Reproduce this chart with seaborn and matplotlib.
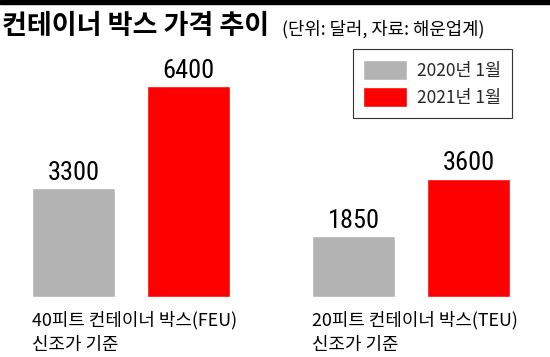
import pandas as pd
import matplotlib.pyplot as plt
import seaborn as sns
from matplotlib.patches import Rectangle
from matplotlib.transforms import blended_transform_factory

# chart data (unit: USD)
categories = ['40피트 컨테이너 박스(FEU)\n신조가 기준', '20피트 컨테이너 박스(TEU)\n신조가 기준']
years = ['2020년 1월', '2021년 1월']
price_2020 = [3300, 1850]
price_2021 = [6400, 3600]

df = pd.DataFrame({
    'box': categories * 2,
    'year': [years[0]] * 2 + [years[1]] * 2,
    'price': price_2020 + price_2021,
})

sns.set_theme(style='white')
plt.rcParams['font.family'] = ['Noto Sans CJK KR', 'DejaVu Sans']

fig = plt.figure(figsize=(5.5, 3.57), dpi=100)
ax = fig.add_axes([0, 0.1667, 1, 0.648])

sns.barplot(data=df, x='box', y='price', hue='year', order=categories, hue_order=years,
            palette=['#b3b3b3', '#ff0000'], width=0.82, gap=0.28, saturation=1, ax=ax)

ax.set_xlim(-0.468, 1.496)
ax.set_ylim(0, 7000)
ax.set_axis_off()

# value labels
for cont in ax.containers:
    ax.bar_label(cont, fmt='%d', padding=2.5, fontsize=19,
                 family=['Roboto Condensed', 'Liberation Sans', 'DejaVu Sans'], color='black')

# category labels, left aligned to the first bar of each group
trans = blended_transform_factory(ax.transData, fig.transFigure)
for bar, label in zip(ax.containers[0], categories):
    ax.text(bar.get_x(), 1 - 311 / 357, label, transform=trans, ha='left', va='top',
            fontsize=12.9, linespacing=1.45, color='black')

# legend box
sns.move_legend(ax, 'upper right', bbox_to_anchor=(512 / 550, 1 - 49 / 357),
                bbox_transform=fig.transFigure, title=None, frameon=True, fancybox=False,
                fontsize=12.5, handlelength=2.5, handleheight=1.45, handletextpad=0.6,
                labelspacing=0.36, borderpad=0.62, borderaxespad=0, framealpha=1,
                edgecolor='#333333')
ax.get_legend().get_frame().set_linewidth(0.8)

# title and black rule on top
fig.patches.append(Rectangle((0, 1 - 4 / 357), 1, 4 / 357, transform=fig.transFigure,
                             color='black', zorder=5))
fig.text(0.004, 1 - 34 / 357, '컨테이너 박스 가격 추이', fontsize=19.5, fontweight='heavy',
         va='baseline', ha='left', color='black')
fig.text(282 / 550, 1 - 34 / 357, '(단위: 달러, 자료: 해운업계)', fontsize=12.8,
         va='baseline', ha='left', color='black')

plt.savefig('out.png', dpi=100)
